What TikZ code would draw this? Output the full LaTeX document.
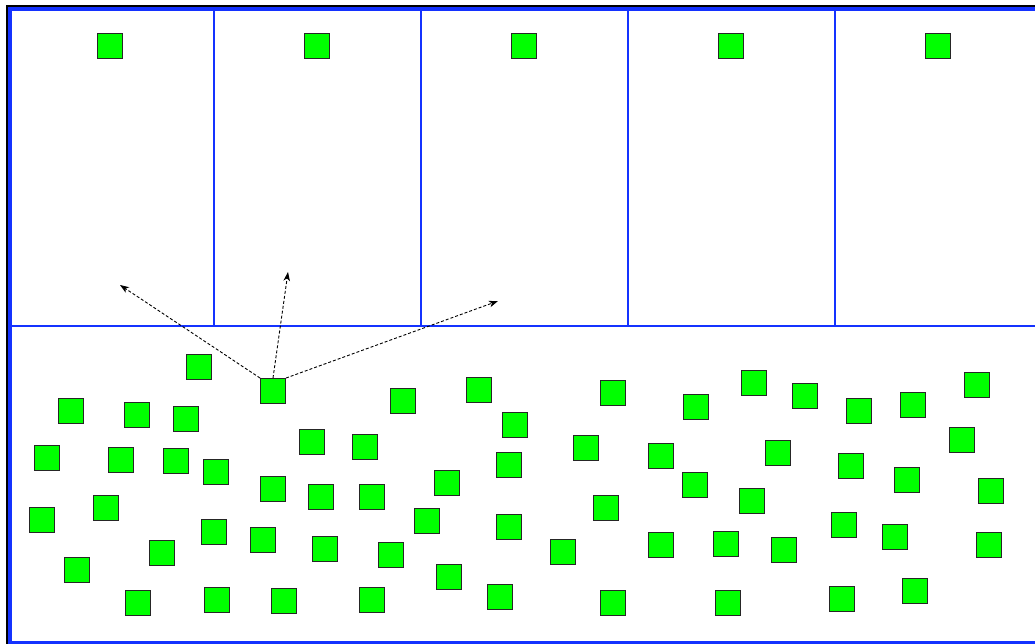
\documentclass[tikz,border=0pt]{standalone}
\usepackage{tikz}
\usetikzlibrary{shapes,arrows,arrows.meta,positioning}
\definecolor{WallBlue}{RGB}{20, 50, 255}
\definecolor{CellGreen}{RGB}{0, 255, 0}

\tikzset{
  cell/.style={draw=black!85, line width=0.9pt, fill=CellGreen, minimum size=25pt, inner sep=0pt},
  wall/.style={WallBlue, line width=2pt},
  move/.style={-{Stealth[length=9pt, width=6.5pt, inset=2.5pt]}, densely dashed, line width=0.9pt}
}

\begin{document}
\begin{tikzpicture}[x=1pt, y=-1pt]
    \useasboundingbox (0,0) rectangle (1035,644);
    \clip (0,0) rectangle (1035,644);

    % Outer frame (black edge on left and top)
    \draw[black, line width=2pt] (7,650) -- (7,6.5) -- (1040,6.5);
    \draw[WallBlue, line width=4pt] (10,9) rectangle (1045,643);

    % Compartments
    \draw[wall] (12,326) -- (1040,326);
    \foreach \x in {214,421,628,835}
      \draw[wall] (\x,11) -- (\x,326);

    % One cell in each compartment
    \foreach \i in {1,...,5}
      \node[cell] (top\i) at ({110+207*(\i-1)},46) {};

    % Cells in the lower region
    \node[cell] (src) at (273,391) {};
    \foreach \x/\y [count=\n] in {
        199/367, 71/411, 137/415, 186/419, 403/401, 479/390, 515/425,
        47/458, 121/460, 176/461, 216/472, 312/442, 365/447, 509/465,
        447/483, 273/489, 321/497, 372/497, 42/520, 106/508, 427/521,
        509/527, 214/532, 263/540, 162/553, 325/549, 391/555, 77/570,
        449/577, 138/603, 217/600, 284/601, 372/600, 500/597,
        613/393, 696/407, 754/383, 805/396, 859/411, 913/405, 977/385,
        586/448, 661/456, 778/453, 962/440, 851/466, 907/480, 991/491,
        695/485, 752/501, 606/508, 563/552, 661/545, 726/544, 784/550,
        844/525, 895/537, 989/545, 613/603, 728/603, 842/599, 915/591}
      \node[cell] (c\n) at (\x,\y) {};

    % Possible moves of one cell
    \coordinate (aimL) at (120,285);
    \coordinate (aimM) at (288,272);
    \coordinate (aimR) at (498,301);
    \draw[move] (src.north west) -- (aimL);
    \draw[move] (src.north) -- (aimM);
    \draw[move] (src.north east) -- (aimR);
\end{tikzpicture}
\end{document}
